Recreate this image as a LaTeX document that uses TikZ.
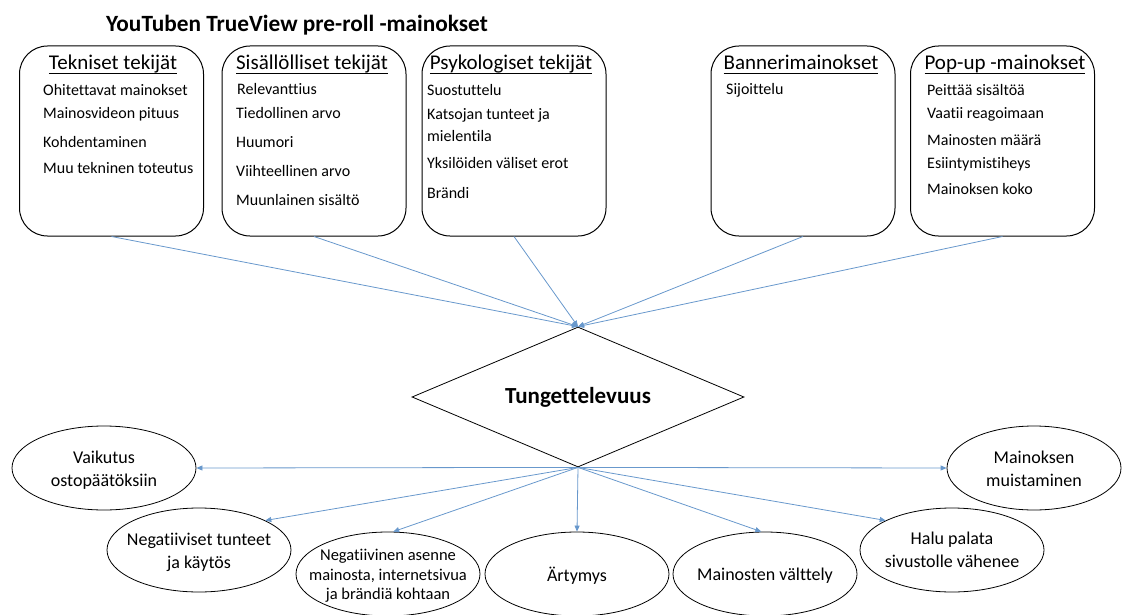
\documentclass[tikz,border=0pt]{standalone}
\usepackage{fontspec}
\setmainfont[Ligatures=NoCommon]{Carlito}
\newcommand{\myul}[1]{\setbox0\hbox{#1}\rlap{\vrule height -2.7pt depth 4pt width \wd0}\box0}
\usetikzlibrary{shapes.geometric,arrows.meta}
\definecolor{conncol}{RGB}{104,152,204}
\begin{document}
\begin{tikzpicture}[x=1pt,y=-1pt,
  box/.style={draw, rounded corners=28pt, line width=1pt, minimum width=184pt, minimum height=190pt, inner sep=0pt},
  hdr/.style={anchor=base, font=\fontsize{21}{24}\selectfont, inner sep=0pt},
  item/.style={anchor=base west, font=\fontsize{16}{19}\selectfont, inner sep=0pt},
  oval/.style={draw, ellipse, line width=0.8pt, minimum width=184pt, minimum height=84pt, inner sep=0pt},
  otext/.style={align=center, inner sep=0pt, font=\fontsize{18}{23}\selectfont},
  conn/.style={draw=conncol, line width=0.8pt, -{Triangle[length=6pt,width=5pt]}},
]
\useasboundingbox (0,0) rectangle (1126,615);

% title
\node[anchor=base west, inner sep=0pt, font=\bfseries\fontsize{23.3}{28}\selectfont] (title) at (106,32) {YouTuben TrueView pre-roll -mainokset};

% boxes
\node[box] (b1) at (111.5,141) {};
\node[box] (b2) at (314,141) {};
\node[box] (b3) at (514,141) {};
\node[box] (b4) at (803,141) {};
\node[box] (b5) at (1002.5,141) {};

% headers
\node[hdr] (h1) at (113,70) {\myul{Tekniset tekijät}};
\node[hdr] (h2) at (312,70) {\myul{Sisällölliset tekijät}};
\node[hdr] (h3) at (511,70) {\myul{Psykologiset tekijät}};
\node[hdr] (h4) at (801,70) {\myul{Bannerimainokset}};
\node[hdr] (h5) at (1005,70) {\myul{Pop-up -mainokset}};

% items: Tekniset
\node[item] (t1a) at (43,96) {Ohitettavat mainokset};
\node[item] (t1b) at (43,119) {Mainosvideon pituus};
\node[item] (t1c) at (43,147) {Kohdentaminen};
\node[item] (t1d) at (43,173) {Muu tekninen toteutus};
% Sisallolliset
\node[item] (t2a) at (237,95) {Relevanttius};
\node[item] (t2b) at (236,119) {Tiedollinen arvo};
\node[item] (t2c) at (236,147) {Huumori};
\node[item] (t2d) at (236,176) {Viihteellinen arvo};
\node[item] (t2e) at (236,205) {Muunlainen sisältö};
% Psykologiset
\node[item] (t3a) at (427,96) {Suostuttelu};
\node[item] (t3b) at (427,120) {Katsojan tunteet ja};
\node[item] (t3c) at (427,142) {mielentila};
\node[item] (t3d) at (427,168) {Yksilöiden väliset erot};
\node[item] (t3e) at (427,198) {Brändi};
% Banner
\node[item] (t4a) at (726,95) {Sijoittelu};
% Pop-up
\node[item] (t5a) at (927,96) {Peittää sisältöä};
\node[item] (t5b) at (927,119) {Vaatii reagoimaan};
\node[item] (t5c) at (927,145) {Mainosten määrä};
\node[item] (t5d) at (927,168) {Esiintymistiheys};
\node[item] (t5e) at (927,194) {Mainoksen koko};

% diamond
\node[draw, diamond, aspect=2.37, minimum width=332pt, minimum height=140pt, inner sep=0pt, line width=0.8pt, font=\bfseries\fontsize{23}{28}\selectfont] (d) at (578,397) {Tungettelevuus};

% ellipses
\node[oval] (e1) at (104,468) {};
\node[oval] (e2) at (199,550) {};
\node[oval] (e3) at (388,574) {};
\node[oval] (e4) at (577,574) {};
\node[oval] (e5) at (765,574) {};
\node[oval] (e6) at (952,550) {};
\node[oval, minimum width=174pt] (e7) at (1034,468) {};

\node[otext] (l1) at (104,470) {Vaikutus\\ostopäätöksiin};
\node[otext] (l2) at (199,552) {Negatiiviset tunteet\\ja käytös};
\node[otext, font=\fontsize{16.5}{19.5}\selectfont] (l3) at (388,576) {Negatiivinen asenne\\mainosta, internetsivua\\ja brändiä kohtaan};
\node[otext] (l4) at (577,576) {Ärtymys};
\node[otext] (l5) at (765,576) {Mainosten välttely};
\node[otext] (l6) at (952,550) {Halu palata\\sivustolle vähenee};
\node[otext] (l7) at (1034,469) {Mainoksen\\muistaminen};

% connectors into diamond
\draw[conn] (b1.south) -- (d.north);
\draw[conn] (b2.south) -- (d.north);
\draw[conn] (b3.south) -- (d.north);
\draw[conn] (b4.south) -- (d.north);
\draw[conn] (b5.south) -- (d.north);

% connectors out of diamond
\draw[conn] (d.south) -- (e1.east);
\draw[conn] (d.south) -- (e2.24);
\draw[conn] (d.south) -- (e3.83);
\draw[conn] (d.south) -- (e4.north);
\draw[conn] (d.south) -- (e5.95);
\draw[conn] (d.south) -- (e6.156);
\draw[conn] (d.south) -- (e7.west);
\end{tikzpicture}
\end{document}
